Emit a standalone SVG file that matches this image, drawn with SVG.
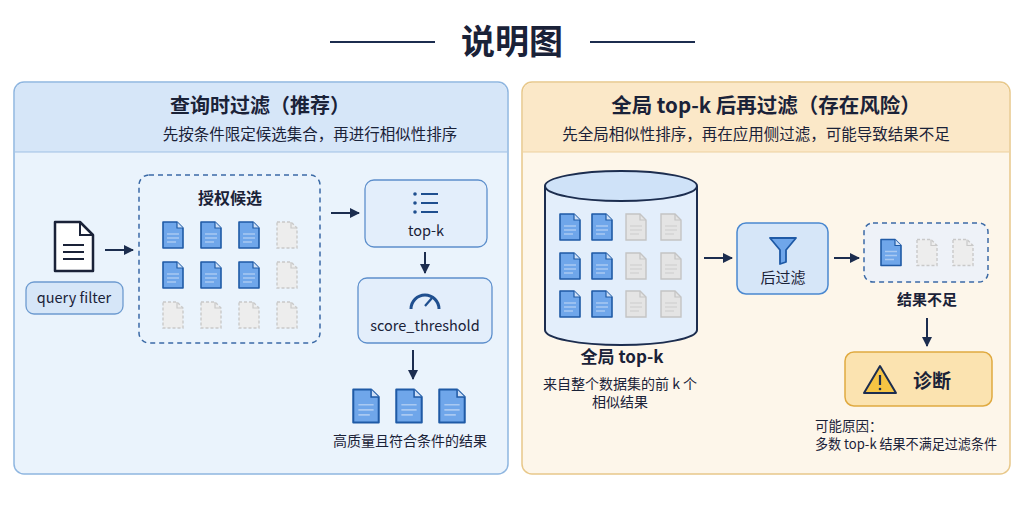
<svg xmlns="http://www.w3.org/2000/svg" xmlns:xlink="http://www.w3.org/1999/xlink" width="1024" height="512" viewBox="0 0 1024 512">
<defs>
<style>
text{font-family:"Noto Sans CJK SC","Noto Sans",sans-serif;fill:#1a2238}
.b{font-weight:bold}
.ar{stroke:#1c2d4f;stroke-width:2;fill:none}
</style>
<marker id="ah" viewBox="0 0 10 10" refX="9" refY="5" markerWidth="5" markerHeight="5" orient="auto"><path d="M0,0L10,5L0,10z" fill="#1c2d4f"/></marker>
<symbol id="dblue" viewBox="0 0 22 28" overflow="visible"><path d="M1,1H15L21,7V27H1Z" fill="#6fa6ea" stroke="#1f5aa6" stroke-width="1.6" stroke-linejoin="round"/><path d="M15,1V7H21" fill="#cfe0f7" stroke="#1f5aa6" stroke-width="1.2"/><path d="M5,13H17M5,17H17M5,21H14" stroke="#a9c9f2" stroke-width="1.3"/></symbol>
<symbol id="dgrey" viewBox="0 0 22 28" overflow="visible"><path d="M1,1H15L21,7V27H1Z" fill="#ededed" stroke="#c9c9c9" stroke-width="1.4" stroke-dasharray="3 2"/><path d="M15,1V7H21" fill="none" stroke="#c9c9c9" stroke-width="1.2"/></symbol>
<symbol id="dgs" viewBox="0 0 22 28" overflow="visible"><path d="M1,1H15L21,7V27H1Z" fill="#e4e4e4" stroke="#c4c4c4" stroke-width="1.4"/><path d="M15,1V7H21" fill="none" stroke="#c4c4c4" stroke-width="1.2"/><path d="M5,13H17M5,17H17M5,21H14" stroke="#d4d4d4" stroke-width="1.3"/></symbol>
</defs>
<rect width="1024" height="512" fill="#ffffff"/>
<g id="title">
<line x1="330" y1="42" x2="435" y2="42" stroke="#1c2d4f" stroke-width="2"/>
<line x1="590" y1="42" x2="695" y2="42" stroke="#1c2d4f" stroke-width="2"/>
<text x="512" y="54" font-size="34" text-anchor="middle" class="b">说明图</text>
</g>
<g id="panel-left">
<rect x="14" y="82" width="494" height="392" rx="10" fill="#eaf3fc" stroke="#8fb6e0" stroke-width="1.5"/>
<path d="M15,152V92a9,9 0 0 1 9,-9H498a9,9 0 0 1 9,9V152Z" fill="#d6e6f8"/>
<line x1="15" y1="152" x2="507" y2="152" stroke="#9fc0e4"/>
<text x="260" y="113" font-size="20" text-anchor="middle" class="b">查询时过滤（推荐）</text>
<text x="310" y="140" font-size="15.5" text-anchor="middle">先按条件限定候选集合，再进行相似性排序</text>
</g>
<g id="panel-right">
<rect x="522" y="82" width="488" height="392" rx="10" fill="#fdf6ea" stroke="#e8c88a" stroke-width="1.5"/>
<path d="M523,152V92a9,9 0 0 1 9,-9H1000a9,9 0 0 1 9,9V152Z" fill="#fbe8c8"/>
<line x1="523" y1="152" x2="1009" y2="152" stroke="#ecd09e"/>
<text x="766" y="113" font-size="20.5" text-anchor="middle" class="b">全局 top-k 后再过滤（存在风险）</text>
<text x="756" y="140" font-size="15.5" text-anchor="middle">先全局相似性排序，再在应用侧过滤，可能导致结果不足</text>
</g>
<g id="query">
<path d="M55,222H80L93,235V271H55Z" fill="#fff" stroke="#1a2238" stroke-width="2.5" stroke-linejoin="round"/>
<path d="M80,222V235H93" fill="none" stroke="#1a2238" stroke-width="2"/>
<path d="M63,245H84M63,252H84M63,259H84" stroke="#1a2238" stroke-width="2"/>
<rect x="26" y="282" width="97" height="32" rx="8" fill="#d6e6f8" stroke="#6d9bd0" stroke-width="1.3"/>
<text x="74" y="303" font-size="14.5" text-anchor="middle">query filter</text>
</g>
<g id="candidates">
<rect x="139" y="175" width="181" height="168" rx="10" fill="none" stroke="#3b6aa6" stroke-width="1.5" stroke-dasharray="5 4"/>
<text x="230" y="204" font-size="16" text-anchor="middle" class="b">授权候选</text>
<use href="#dblue" x="162" y="221" width="22" height="28"/><use href="#dblue" x="200" y="221" width="22" height="28"/><use href="#dblue" x="238" y="221" width="22" height="28"/><use href="#dgrey" x="276" y="221" width="22" height="28"/>
<use href="#dblue" x="162" y="261" width="22" height="28"/><use href="#dblue" x="200" y="261" width="22" height="28"/><use href="#dblue" x="238" y="261" width="22" height="28"/><use href="#dgrey" x="276" y="261" width="22" height="28"/>
<use href="#dgrey" x="162" y="301" width="22" height="28"/><use href="#dgrey" x="200" y="301" width="22" height="28"/><use href="#dgrey" x="238" y="301" width="22" height="28"/><use href="#dgrey" x="276" y="301" width="22" height="28"/>
</g>
<g id="topk">
<rect x="365" y="180" width="122" height="67" rx="9" fill="#e3eefb" stroke="#5d8fcc" stroke-width="1.3"/>
<g fill="#1f4f8f"><circle cx="415" cy="194" r="1.8"/><circle cx="415" cy="203" r="1.8"/><circle cx="415" cy="212" r="1.8"/></g>
<path d="M421,194H438M421,203H438M421,212H438" stroke="#1f4f8f" stroke-width="2"/>
<text x="426" y="236" font-size="14.5" text-anchor="middle">top-k</text>
</g>
<g id="score">
<rect x="358" y="278" width="134" height="65" rx="9" fill="#e3eefb" stroke="#5d8fcc" stroke-width="1.3"/>
<path d="M411,309A14,14 0 0 1 439,309" fill="none" stroke="#1f4f8f" stroke-width="3"/>
<path d="M425,306L432,298" stroke="#1f4f8f" stroke-width="2.2"/>
<text x="425" y="331" font-size="14.5" text-anchor="middle">score_threshold</text>
</g>
<g id="results">
<use href="#dblue" x="352" y="388" width="28" height="36"/><use href="#dblue" x="395" y="388" width="28" height="36"/><use href="#dblue" x="438" y="388" width="28" height="36"/>
<text x="410" y="446" font-size="14" text-anchor="middle">高质量且符合条件的结果</text>
</g>
<g id="cylinder">
<path d="M545,186V330A76,15 0 0 0 697,330V186" fill="#e3eefb" stroke="#1c2d4f" stroke-width="2"/>
<ellipse cx="621" cy="186" rx="76" ry="15" fill="#cfe2f8" stroke="#1c2d4f" stroke-width="2"/>
<use href="#dblue" x="559" y="213" width="22" height="28"/><use href="#dblue" x="591" y="213" width="22" height="28"/><use href="#dgs" x="625" y="213" width="22" height="28"/><use href="#dgs" x="660" y="213" width="22" height="28"/>
<use href="#dblue" x="559" y="252" width="22" height="28"/><use href="#dblue" x="591" y="252" width="22" height="28"/><use href="#dgs" x="625" y="252" width="22" height="28"/><use href="#dgs" x="660" y="252" width="22" height="28"/>
<use href="#dblue" x="559" y="290" width="22" height="28"/><use href="#dblue" x="591" y="290" width="22" height="28"/><use href="#dgs" x="625" y="290" width="22" height="28"/><use href="#dgs" x="660" y="290" width="22" height="28"/>
<text x="622" y="363" font-size="17" text-anchor="middle" class="b">全局 top-k</text>
<text x="620" y="389" font-size="14" text-anchor="middle">来自整个数据集的前 k 个</text>
<text x="620" y="407" font-size="14" text-anchor="middle">相似结果</text>
</g>
<g id="postfilter">
<rect x="737" y="223" width="91" height="71" rx="9" fill="#d6e6f8" stroke="#4a88d0" stroke-width="1.5"/>
<path d="M770,238H796L786,250V262L780,264V250Z" fill="#6fa6ea" stroke="#1f5aa6" stroke-width="1.8" stroke-linejoin="round"/>
<text x="783" y="283" font-size="15" text-anchor="middle">后过滤</text>
</g>
<g id="insufficient">
<rect x="864" y="223" width="124" height="59" rx="9" fill="#eef2f8" stroke="#3b6aa6" stroke-width="1.5" stroke-dasharray="5 4"/>
<use href="#dblue" x="880" y="238" width="22" height="29"/><use href="#dgrey" x="916" y="238" width="22" height="29"/><use href="#dgrey" x="952" y="238" width="22" height="29"/>
<text x="927" y="305" font-size="15" text-anchor="middle" class="b">结果不足</text>
</g>
<g id="diagnose">
<rect x="845" y="352" width="147" height="54" rx="9" fill="#fbe3b0" stroke="#e0aa40" stroke-width="1.5"/>
<path d="M880,366L896,393H864Z" fill="#f6c443" stroke="#1c2d4f" stroke-width="2" stroke-linejoin="round"/>
<path d="M880,375V385" stroke="#1c2d4f" stroke-width="2.2"/><circle cx="880" cy="389" r="1.3" fill="#1c2d4f"/>
<text x="932" y="388" font-size="19" text-anchor="middle" class="b">诊断</text>
<text x="815" y="431" font-size="13.5">可能原因：</text>
<text x="815" y="449" font-size="13.5" textLength="182" lengthAdjust="spacingAndGlyphs">多数 top-k 结果不满足过滤条件</text>
</g>
<g id="connectors">
<line class="ar" x1="105" y1="250" x2="133" y2="250" marker-end="url(#ah)"/>
<line class="ar" x1="331" y1="213" x2="359" y2="213" marker-end="url(#ah)"/>
<line class="ar" x1="425" y1="252" x2="425" y2="273" marker-end="url(#ah)"/>
<line class="ar" x1="413" y1="350" x2="413" y2="379" marker-end="url(#ah)"/>
<line class="ar" x1="704" y1="258" x2="732" y2="258" marker-end="url(#ah)"/>
<line class="ar" x1="834" y1="258" x2="859" y2="258" marker-end="url(#ah)"/>
<line class="ar" x1="927" y1="318" x2="927" y2="346" marker-end="url(#ah)"/>
</g>
</svg>
